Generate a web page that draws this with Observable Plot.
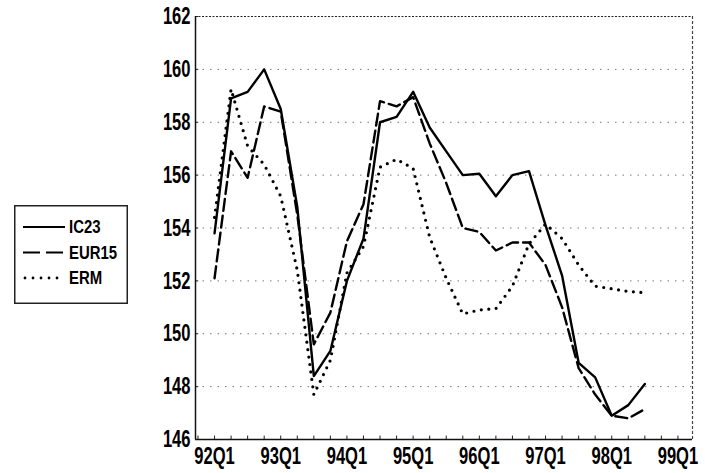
<!DOCTYPE html>
<html><head><meta charset="utf-8">
<script src="https://cdn.jsdelivr.net/npm/d3@7"></script>
<script src="https://cdn.jsdelivr.net/npm/@observablehq/plot@0.6"></script>
<style>
body{margin:0;background:#fff;}
#wrap{position:relative;width:705px;height:473px;}
#legend{position:absolute;left:14px;top:205px;}
</style></head><body>
<div id="wrap"><div id="chart"></div><div id="legend"></div></div>
<script>
const quarters = ["92Q1","92Q2","92Q3","92Q4","93Q1","93Q2","93Q3","93Q4","94Q1","94Q2","94Q3","94Q4",
  "95Q1","95Q2","95Q3","95Q4","96Q1","96Q2","96Q3","96Q4","97Q1","97Q2","97Q3","97Q4","98Q1","98Q2","98Q3"];
const IC23  = [153.8,158.9,159.15,160.0,158.5,154.8,148.4,149.35,152.0,153.6,158.0,158.2,159.15,157.8,156.9,156.0,156.05,155.2,156.0,156.15,154.1,152.2,148.9,148.35,146.9,147.3,148.1];
const EUR15 = [152.1,156.9,155.9,158.6,158.4,154.5,149.6,150.8,153.5,154.9,158.8,158.6,158.95,157.2,155.7,154.0,153.85,153.15,153.45,153.45,152.6,151.0,148.7,147.7,146.9,146.8,147.15];
const ERM   = [154.4,159.25,157.1,156.4,155.2,152.4,147.7,149.0,152.3,153.3,156.3,156.6,156.25,153.65,152.1,150.75,150.9,150.95,151.8,153.4,154.15,153.6,152.6,151.8,151.7,151.6,151.55];
const seriesNames = ["IC23","EUR15","ERM"];
const xTickLabels = ["92Q1","93Q1","94Q1","95Q1","96Q1","97Q1","98Q1","99Q1"];
const yTicks = [146,148,150,152,154,156,158,160,162];

const qIndex = s => (+s.slice(0,2) - 92) * 4 + (+s.slice(3) - 1);
const rows = [];
[IC23, EUR15, ERM].forEach((vals, k) => vals.forEach((v, i) => rows.push({series: seriesNames[k], t: qIndex(quarters[i]), v})));
const xTicks = xTickLabels.map(qIndex);
const labelOf = new Map(xTickLabels.map(s => [qIndex(s), s]));
const xDomain = [-1.15, 28.88];
const allQ = d3.range(-1, 29);

const styleFor = {
  IC23: {},
  EUR15: {strokeDasharray: "12,5"},
  ERM: {strokeDasharray: "0,7.5", strokeLinecap: "round", strokeWidth: 3.2}
};

const chart = Plot.plot({
  width: 705, height: 473,
  marginLeft: 195, marginRight: 13, marginTop: 16, marginBottom: 34,
  style: {fontFamily: "'Liberation Sans', Arial, sans-serif", background: "white", color: "black"},
  x: {domain: xDomain},
  y: {domain: [146, 162]},
  marks: [
    Plot.ruleY(yTicks.slice(1, -1), {stroke: "#777", strokeDasharray: "1.5,6", strokeWidth: 1}),
    Plot.ruleY([162], {stroke: "#222", strokeDasharray: "2,1.5", strokeWidth: 1.2}),
    Plot.ruleX([xDomain[1]], {stroke: "#444", strokeDasharray: "3,2", strokeWidth: 1.2}),
    Plot.ruleX(allQ, {y1: 146, y2: 146.13, stroke: "#222", strokeWidth: 1}),
    Plot.ruleY(yTicks, {x1: xDomain[0], x2: xDomain[0] + 0.2, stroke: "#222", strokeWidth: 1}),
    ...seriesNames.map(s => Plot.line(rows.filter(d => d.series === s), {
      x: "t", y: "v", stroke: "black", strokeWidth: 2.4, ...styleFor[s]
    })),
    Plot.ruleX([xDomain[0]], {stroke: "#111", strokeWidth: 1.5}),
    Plot.ruleY([146], {stroke: "#111", strokeWidth: 1.5}),
    Plot.axisX({ticks: xTicks, tickFormat: d => labelOf.get(d), tickSize: 0, tickPadding: 7, fontSize: 24, fontWeight: "bold", label: null}),
    Plot.axisY({ticks: yTicks, tickSize: 0, tickPadding: 5, fontSize: 24, fontWeight: "bold", label: null})
  ]
});
document.getElementById("chart").appendChild(chart);
d3.select(chart).selectAll('[aria-label$="tick label"] text').each(function() {
  const t = this.getAttribute("transform") || "";
  this.setAttribute("transform", t + " scale(0.69,1)");
});

// legend
const L = d3.select("#legend").append("svg").attr("width", 114).attr("height", 99)
  .style("font-family", "'Liberation Sans', Arial, sans-serif");
L.append("rect").attr("x", 0.75).attr("y", 0.75).attr("width", 112.5).attr("height", 97.5)
  .attr("fill", "white").attr("stroke", "#222").attr("stroke-width", 1.5);
seriesNames.forEach((s, k) => {
  const y = 22 + k * 25.5;
  const dash = s === "EUR15" ? "17,6" : s === "ERM" ? "0,8" : null;
  L.append("line").attr("x1", s === "ERM" ? 11 : 9).attr("x2", 51).attr("y1", y).attr("y2", y)
    .attr("stroke", "black").attr("stroke-width", s === "ERM" ? 2.8 : 2)
    .attr("stroke-dasharray", dash).attr("stroke-linecap", s === "ERM" ? "round" : "butt");
  L.append("text").attr("transform", `translate(55,${y}) scale(0.83,1)`).attr("dy", "0.35em")
    .attr("font-size", 18).attr("font-weight", "bold").text(s);
});
</script>
</body></html>
